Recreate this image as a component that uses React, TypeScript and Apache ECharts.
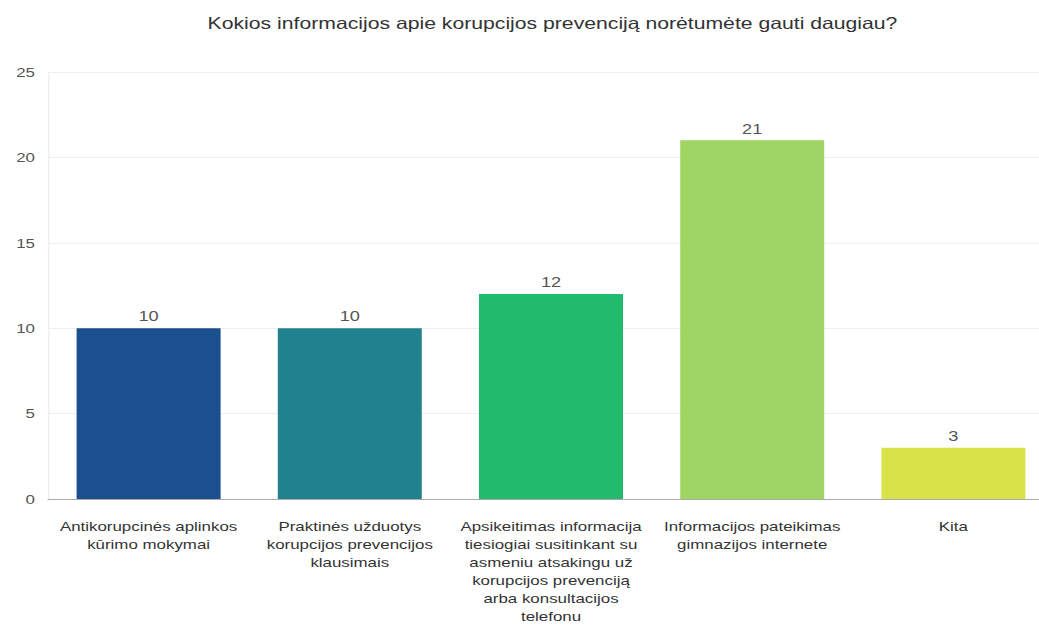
import React, { useEffect, useRef } from "react";
import * as echarts from "echarts";

const categories = [
  "Antikorupcinės aplinkos\nkūrimo mokymai",
  "Praktinės užduotys\nkorupcijos prevencijos\nklausimais",
  "Apsikeitimas informacija\ntiesiogiai susitinkant su\nasmeniu atsakingu už\nkorupcijos prevenciją\narba konsultacijos\ntelefonu",
  "Informacijos pateikimas\ngimnazijos internete",
  "Kita",
];
const values = [10, 10, 12, 21, 3];
const barColors = ["#1b4f8f", "#20828f", "#22bb6e", "#9fd564", "#d9e44a"];
const titleText = "Kokios informacijos apie korupcijos prevenciją norėtumėte gauti daugiau?";

// the reference picture is stretched horizontally; reproduce that with a horizontal scale
const SX = 1.3;
const FONT = "Liberation Sans, Arial, sans-serif";

export default function App() {
  const ref = useRef<HTMLDivElement>(null);
  useEffect(() => {
    if (!ref.current) return;
    const chart = echarts.init(ref.current, undefined, { renderer: "svg" });
    chart.setOption({
      animation: false,
      backgroundColor: "#ffffff",
      textStyle: { fontFamily: FONT },
      title: {
        text: titleText,
        left: 546 / SX,
        textAlign: "center",
        top: 10,
        textStyle: { fontSize: 16.3, fontWeight: "normal", color: "#333", fontFamily: FONT },
      },
      grid: { left: 48 / SX, top: 72, width: 1006 / SX, height: 428 },
      xAxis: {
        type: "category",
        data: categories,
        axisLine: { show: true, lineStyle: { color: "#aaaaaa" } },
        axisTick: { show: false },
        axisLabel: {
          interval: 0,
          color: "#333",
          fontSize: 13,
          lineHeight: 18,
          margin: 18,
          fontFamily: FONT,
        },
      },
      yAxis: {
        type: "value",
        min: 0,
        max: 25,
        interval: 5,
        axisLine: { show: true, lineStyle: { color: "#eeeeee" } },
        axisTick: { show: false },
        axisLabel: { color: "#555", fontSize: 13, margin: 10, fontFamily: FONT },
        splitLine: { lineStyle: { color: "#eeeeee" } },
      },
      series: [
        {
          type: "bar",
          data: values.map((v, i) => ({ value: v, itemStyle: { color: barColors[i] } })),
          barWidth: 144 / SX,
          label: {
            show: true,
            position: "top",
            color: "#555",
            fontSize: 14,
            distance: 5,
            fontFamily: FONT,
          },
        },
      ],
    });
    return () => chart.dispose();
  }, []);
  return (
    <div
      style={{
        position: "fixed",
        left: 0,
        top: 0,
        width: 1039,
        height: 625,
        overflow: "hidden",
        background: "#fff",
      }}
    >
      <div
        ref={ref}
        style={{
          width: 820,
          height: 625,
          transform: `scaleX(${SX})`,
          transformOrigin: "0 0",
        }}
      />
    </div>
  );
}
